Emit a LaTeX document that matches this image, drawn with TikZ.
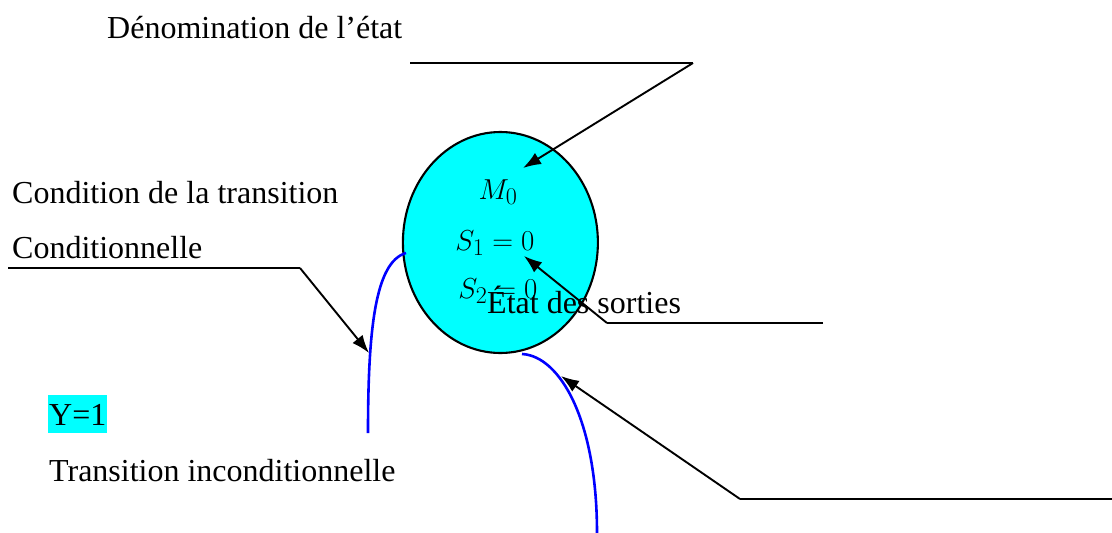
\documentclass[tikz,border=0pt]{standalone}
\usepackage{fontspec}
\setmainfont{Liberation Serif}
\usetikzlibrary{arrows.meta,shapes.geometric}
\definecolor{aqua}{RGB}{0,255,255}
\definecolor{tblue}{RGB}{0,0,255}
\tikzset{
  lbl/.style={anchor=base west, inner sep=0pt, font=\fontsize{32}{38}\selectfont},
  mth/.style={anchor=base, inner sep=0pt, scale=1.16, font=\fontsize{24.88}{30}\selectfont},
  leader/.style={line width=1.9pt, -{Latex[length=18pt,width=13pt]}},
  plain/.style={line width=2.2pt},
  trans/.style={draw=tblue, line width=2.6pt},
  statebox/.style={ellipse, draw, line width=2.1pt, fill=aqua, minimum width=195pt, minimum height=221pt, inner sep=0pt}
}
\begin{document}
\begin{tikzpicture}[x=1pt,y=-1pt]
\useasboundingbox (0,0) rectangle (1112,533);
% state
\node[statebox] (st) at (500.4,242.5) {};
\node[mth] (m0) at (498,199) {$M_0$};
\node[mth] (s1) at (495,250) {$S_1 = 0$};
\node[mth] (s2) at (498,298) {$S_2 = 0$};
% labels
\node[lbl] (den) at (107,38) {Dénomination de l’état};
\node[lbl] (cond1) at (12,203) {Condition de la transition};
\node[lbl] (cond2) at (12,258) {Conditionnelle};
\node[lbl, fill=aqua, inner xsep=1pt, inner ysep=0pt, text depth=8pt, text height=30pt] (y1) at (48,425) {Y=1};
\node[lbl] (ti) at (49,481) {Transition inconditionnelle};
\node[lbl] (es) at (487,313) {État des sorties};
% transitions
\coordinate (la) at (406,253);
\coordinate (lb) at (368,433);
\coordinate (ba) at (522,354);
\coordinate (bb) at (597,533);
\draw[trans] (la) .. controls (375,262) and (368,330) .. (lb);
\draw[trans] (ba) .. controls (560,356) and (597,420) .. (bb);
% leader lines
\coordinate (t1) at (410,63);
\coordinate (t2) at (693,63);
\coordinate (t3) at (523,168);
\draw[plain] (t1) -- (t2);
\draw[leader] (t2) -- (t3);
\coordinate (c1) at (8,268);
\coordinate (c2) at (300,268);
\coordinate (c3) at (369,353);
\draw[plain] (c1) -- (c2);
\draw[leader] (c2) -- (c3);
\coordinate (e1) at (823,323);
\coordinate (e2) at (607,323);
\coordinate (e3) at (524,256);
\draw[plain] (e1) -- (e2);
\draw[leader] (e2) -- (e3);
\coordinate (r1) at (1112,499);
\coordinate (r2) at (740,499);
\coordinate (r3) at (561,376);
\draw[plain] (r1) -- (r2);
\draw[leader] (r2) -- (r3);
\end{tikzpicture}
\end{document}
